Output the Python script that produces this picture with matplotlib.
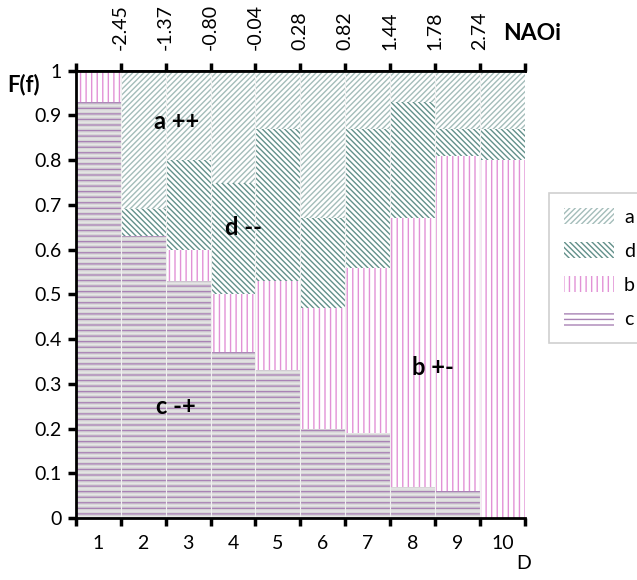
import matplotlib.pyplot as plt
import numpy as np

# decile categories and stacked frequencies
deciles = [1, 2, 3, 4, 5, 6, 7, 8, 9, 10]
c_vals = [0.93, 0.63, 0.53, 0.37, 0.33, 0.20, 0.19, 0.07, 0.06, 0.00]
b_vals = [0.07, 0.00, 0.07, 0.13, 0.20, 0.27, 0.37, 0.60, 0.75, 0.80]
d_vals = [0.00, 0.06, 0.20, 0.25, 0.34, 0.20, 0.31, 0.26, 0.06, 0.07]
a_vals = [0.00, 0.31, 0.20, 0.25, 0.13, 0.33, 0.13, 0.07, 0.13, 0.13]
naoi_labels = ['-2.45', '-1.37', '-0.80', '-0.04', '0.28', '0.82', '1.44', '1.78', '2.74']

plt.rcParams['font.family'] = ['Lato', 'DejaVu Sans']
plt.rcParams['hatch.linewidth'] = 1.0

fig = plt.figure(figsize=(6.37, 5.8), dpi=100)
ax = fig.add_axes([0.119, 0.107, 0.705, 0.771])

x = np.array(deciles)
c = np.array(c_vals)
b = np.array(b_vals)
d = np.array(d_vals)
a = np.array(a_vals)

# c: grey fill with fine grey lines plus purple lines on top
ax.bar(x, c, width=1.0, facecolor='#e6e6e6', edgecolor='#d6d6d6', hatch='------', linewidth=0)
bc = ax.bar(x, c, width=1.0, facecolor='none', edgecolor='#a983b5', hatch='---', linewidth=0, label='c')
bb = ax.bar(x, b, bottom=c, width=1.0, facecolor='white', edgecolor='#e292d6', hatch='|||', linewidth=0, label='b')
bd = ax.bar(x, d, bottom=c + b, width=1.0, facecolor='white', edgecolor='#62908a', hatch='\\' * 6, linewidth=0, label='d')
ba = ax.bar(x, a, bottom=c + b + d, width=1.0, facecolor='white', edgecolor='#a4bdba', hatch='/' * 6, linewidth=0, label='a')

# light seams between the columns
for xi in np.arange(1.5, 10.5, 1.0):
    ax.axvline(xi, color='#f0f0f0', linewidth=0.8, zorder=2.5)

ax.set_xlim(0.5, 10.5)
ax.set_ylim(0, 1)

# y axis
ax.set_yticks(np.arange(0, 1.01, 0.1))
ax.set_yticklabels(['0', '0.1', '0.2', '0.3', '0.4', '0.5', '0.6', '0.7', '0.8', '0.9', '1'])
ax.tick_params(axis='y', direction='out', length=6, width=2.5, labelsize=14, pad=4)

# bottom axis: ticks on boundaries, labels at centres
ax.set_xticks(np.arange(0.5, 11, 1.0))
ax.set_xticklabels([])
ax.set_xticks(x, minor=True)
ax.set_xticklabels([str(v) for v in deciles], minor=True)
ax.tick_params(axis='x', which='major', direction='out', length=6, width=2.5)
ax.tick_params(axis='x', which='minor', length=0, labelsize=14, pad=12)

for s in ['left', 'bottom', 'top']:
    ax.spines[s].set_linewidth(2)
    ax.spines[s].set_zorder(3)
ax.spines['right'].set_visible(False)

# top axis with NAOi boundaries
top = ax.secondary_xaxis('top')
top.set_xticks(np.arange(0.5, 11, 1.0))
top.set_xticklabels([''] + naoi_labels + [''], rotation=90)
top.tick_params(direction='out', length=6, width=2.5, labelsize=14, pad=9)
top.spines['top'].set_linewidth(2)

# region annotations
ax.text(2.75, 0.886, 'a ++', fontsize=17, fontweight='bold', ha='center', va='center', zorder=4)
ax.text(4.23, 0.649, 'd --', fontsize=17, fontweight='bold', ha='center', va='center', zorder=4)
ax.text(8.45, 0.336, 'b +-', fontsize=17, fontweight='bold', ha='center', va='center', zorder=4)
ax.text(2.73, 0.25, 'c -+', fontsize=17, fontweight='bold', ha='center', va='center', zorder=4)

fig.text(0.012, 0.855, 'F(f)', fontsize=16, fontweight='bold', ha='left', va='center')
fig.text(0.79, 0.943, 'NAOi', fontsize=16.5, fontweight='bold', ha='left', va='center')
fig.text(0.822, 0.014, 'D', fontsize=14, ha='center', va='bottom')

leg = fig.legend([ba, bd, bb, bc], ['a', 'd', 'b', 'c'], loc='upper left',
                 bbox_to_anchor=(0.862, 0.667), borderaxespad=0, fontsize=14,
                 frameon=True, fancybox=False, edgecolor='#c4c4c4',
                 handlelength=2.6, handleheight=0.9, handletextpad=0.5,
                 labelspacing=0.85, borderpad=0.75)
leg.get_frame().set_linewidth(1.2)

fig.savefig('out.png', dpi=100)
